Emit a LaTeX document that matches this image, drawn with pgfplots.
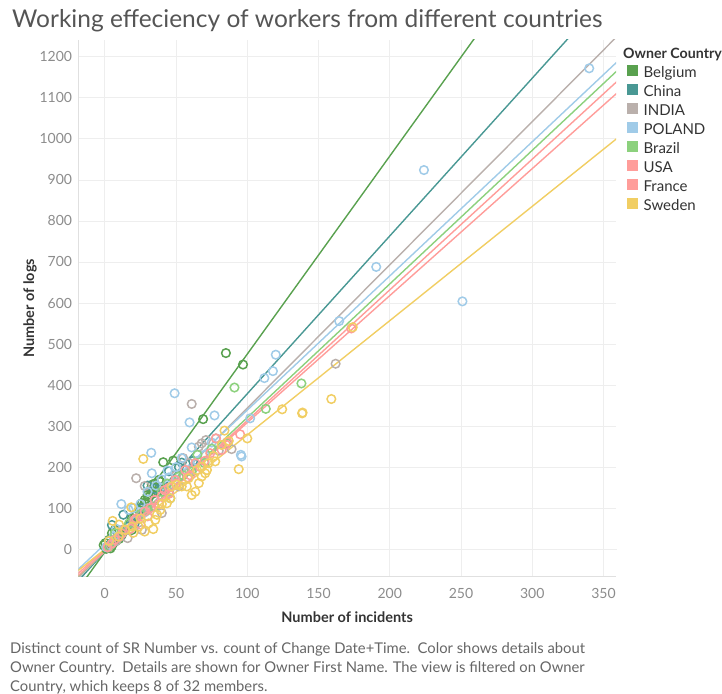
\documentclass[border=0pt]{standalone}
\usepackage{fontspec}
\setmainfont{Lato}
\usepackage{pgfplots}
\pgfplotsset{compat=1.18}

\definecolor{cBel}{HTML}{59A14F}
\definecolor{cChi}{HTML}{499894}
\definecolor{cInd}{HTML}{BAB0AC}
\definecolor{cPol}{HTML}{A0CBE8}
\definecolor{cBra}{HTML}{8CD17D}
\definecolor{cUsa}{HTML}{FF9D9A}
\definecolor{cFra}{HTML}{FF9D9A}
\definecolor{cSwe}{HTML}{F1CE63}
\definecolor{cTitle}{HTML}{555555}
\definecolor{cTick}{HTML}{8C8C8C}
\definecolor{cLab}{HTML}{333333}
\definecolor{cNote}{HTML}{666666}
\definecolor{cGrid}{HTML}{EEEEEE}

\pgfplotsset{
    scat/.style={only marks, mark=o, mark size=4.3pt, mark options={line width=1.5pt}},
    trend/.style={no marks, line width=1.4pt, forget plot},
}

\begin{document}
\begin{tikzpicture}
\useasboundingbox (0pt,0pt) rectangle (722pt,693pt);

\node[anchor=base west, inner sep=0pt, text=cTitle, font=\fontsize{24.5}{28}\selectfont]
    at (12pt,665pt) {Working effeciency of workers from different countries};

\begin{axis}[
    at={(78.3pt,116.3pt)}, anchor=south west,
    scale only axis,
    width=537.7pt, height=536.7pt,
    xmin=-18.6, xmax=358.8,
    ymin=-67, ymax=1241,
    xtick={0,50,...,350},
    ytick={0,100,...,1200},
    scaled ticks=false,
    /pgf/number format/assume math mode=true,
    /pgf/number format/1000 sep={},
    major tick length=0pt,
    grid=major,
    major grid style={draw=cGrid, line width=0.8pt},
    axis lines=left,
    axis line style={-, draw=black!12, line width=0.8pt},
    every outer x axis line/.append style={-},
    every outer y axis line/.append style={-},
    extra x ticks={0}, extra x tick labels={},
    extra y ticks={0}, extra y tick labels={},
    extra tick style={grid style={draw=black!30, dotted, line width=0.8pt}},
    tick label style={font=\fontsize{14}{16}\selectfont, text=cTick, inner sep=0pt},
    xticklabel style={anchor=center, yshift=-16.3pt},
    yticklabel style={anchor=east, xshift=-6pt},
    xlabel={Number of incidents},
    ylabel={Number of logs},
    label style={font=\bfseries\fontsize{14.5}{16}\selectfont, text=cLab},
    xlabel style={at={(axis description cs:0.5,-0.0753)}, anchor=center},
    ylabel style={at={(axis description cs:-0.0898,0.5)}, anchor=center},
    legend cell align=left,
    legend image code/.code={\fill[#1] (0pt,-1.5pt) rectangle (10pt,8.5pt);},
    legend style={at={(1.0205,0.9534)}, anchor=north west, draw=none, fill=none,
        inner sep=0pt, font=\fontsize{15}{17}\selectfont, text=cLab,
        row sep=3.8pt,
        nodes={inner sep=0pt, text height=10pt, text depth=3pt},
        /tikz/every odd column/.append style={column sep=6pt}},
]

% Belgium
\addplot[scat, color=cBel] coordinates {
    (85,478) (97,450) (69,317) (41,212) (48,216) (38,169) (39,164) (33,157)
    (32,145) (30,132) (31,127) (34,136) (28,120) (26,112) (24,96) (19,76)
    (7,47) (5,39) (3,23) (0.4,15) (-0.8,10) (1.5,6) (4,2) (6,15) (19,47)
    (2,3) (1,1) (3,10) (5,8) (8,20) (10,25) (12,35) (36,150) (35,160)
    (37,140) (30,115)
};
\addlegendentry{Belgium}

% China
\addplot[scat, color=cChi] coordinates {
    (13,84) (5,59) (54,211) (21,63) (11,31) (7,23) (30,155) (35,147)
    (45,190) (62,215) (16,55) (25,100) (40,150) (3,10) (2,5) (52,200)
};
\addlegendentry{China}

% INDIA
\addplot[scat, color=cInd] coordinates {
    (162,452) (61,354) (22,173) (28,154) (68,258) (66,250) (89,244) (78,270)
    (55,222) (16,27) (17,47) (26,47) (40,88) (61,193) (52,153) (71,266)
    (59,210) (12,47) (26,88) (35,120) (45,140) (30,100) (8,20) (4,10)
    (2,4) (80,240) (50,180) (20,70)
};
\addlegendentry{INDIA}

% POLAND
\addplot[scat, color=cPol] coordinates {
    (340,1172) (224,924) (190.5,688) (251,604) (164.5,556) (120,474) (118,434)
    (112,417) (49,380) (59.5,309) (77,326) (102,319) (95.5,230) (96,226)
    (32.6,235) (33,185) (44,192) (61,248) (11.6,110) (16.7,96) (54,222)
    (20,100) (25,110) (40,170) (45,175) (50,200) (70,230) (65,215) (6,30)
    (3,20) (1,5) (8,50) (30,140) (36,155) (28,90) (75,260)
};
\addlegendentry{POLAND}

% Brazil
\addplot[scat, color=cBra] coordinates {
    (91,394) (138,404) (113,342) (86,258) (61,189) (52,177) (46,124) (35,104)
    (17,63) (7,39) (3,6.5) (75,245) (65,230) (40,140) (25,85) (55,180)
    (30,95) (12,40) (70,210) (44,160)
};
\addlegendentry{Brazil}

% USA
\addplot[scat, color=cUsa] coordinates {
    (78,270) (74,234) (63.5,209.5) (56.5,193) (49.5,169) (42,144) (35,120)
    (28,92) (21,71) (14,47) (7,23) (82,242) (86,261) (60,180) (45,150)
    (38,110) (25,60) (10,30) (2,5)
};
\addlegendentry{USA}

% France
\addplot[scat, color=cFra] coordinates {
    (173,538) (67,200) (58,175) (50,160) (40,130) (32,100) (22,75) (18,50)
    (12,38) (5,14) (70,215) (85,255) (30,80) (45,135) (95,280)
};
\addlegendentry{France}

% Sweden
\addplot[scat, color=cSwe] coordinates {
    (159,366) (138.5,331) (124.5,341) (138.8,333) (100,270) (94,195) (27,220)
    (5.5,69) (18.6,102) (34,49) (28,43) (61,132) (63.5,140) (66,161) (68,177)
    (70.5,185) (71.7,193) (57.6,153) (54,153) (46,124) (43.6,112) (39,96)
    (36.6,84) (35.4,71.5) (30.8,63) (23.7,55) (19,55) (14.4,47) (9.7,31)
    (77.5,214) (76.3,227) (84,289) (87,264) (82,254) (64.7,193) (68.2,201)
    (72.8,209.5) (58.8,173) (50.6,157) (47,153) (174,541) (10,60) (3,20)
    (25,75) (20,40) (40,110)
};
\addlegendentry{Sweden}

% trend lines
\addplot[trend, color=cBel] coordinates {(-20,-103.5) (360,1730)};
\addplot[trend, color=cChi] coordinates {(-20,-82.5) (360,1378.6)};
\addplot[trend, color=cInd] coordinates {(-20,-74.8) (360,1251.4)};
\addplot[trend, color=cPol] coordinates {(-20,-53.4) (360,1189.2)};
\addplot[trend, color=cBra] coordinates {(-20,-70.1) (360,1167.5)};
\addplot[trend, color=cUsa] coordinates {(-20,-68.7) (360,1141.6)};
\addplot[trend, color=cFra] coordinates {(-20,-62.9) (360,1113.2)};
\addplot[trend, color=cSwe] coordinates {(-20,-55.7) (360,1002.6)};

\end{axis}

\node[anchor=base west, inner sep=0pt, text=cLab, font=\bfseries\fontsize{14.2}{16}\selectfont]
    at (623pt,634.3pt) {Owner Country};

\node[anchor=base west, inner sep=0pt, align=left, text=cNote,
      font=\fontsize{14.8}{19}\selectfont]
    at (10pt,2pt) {Distinct count of SR Number vs. count of Change Date+Time.\ \ Color shows details about\\
Owner Country.\ \ Details are shown for Owner First Name. The view is filtered on Owner\\
Country, which keeps 8 of 32 members.};
\end{tikzpicture}
\end{document}
